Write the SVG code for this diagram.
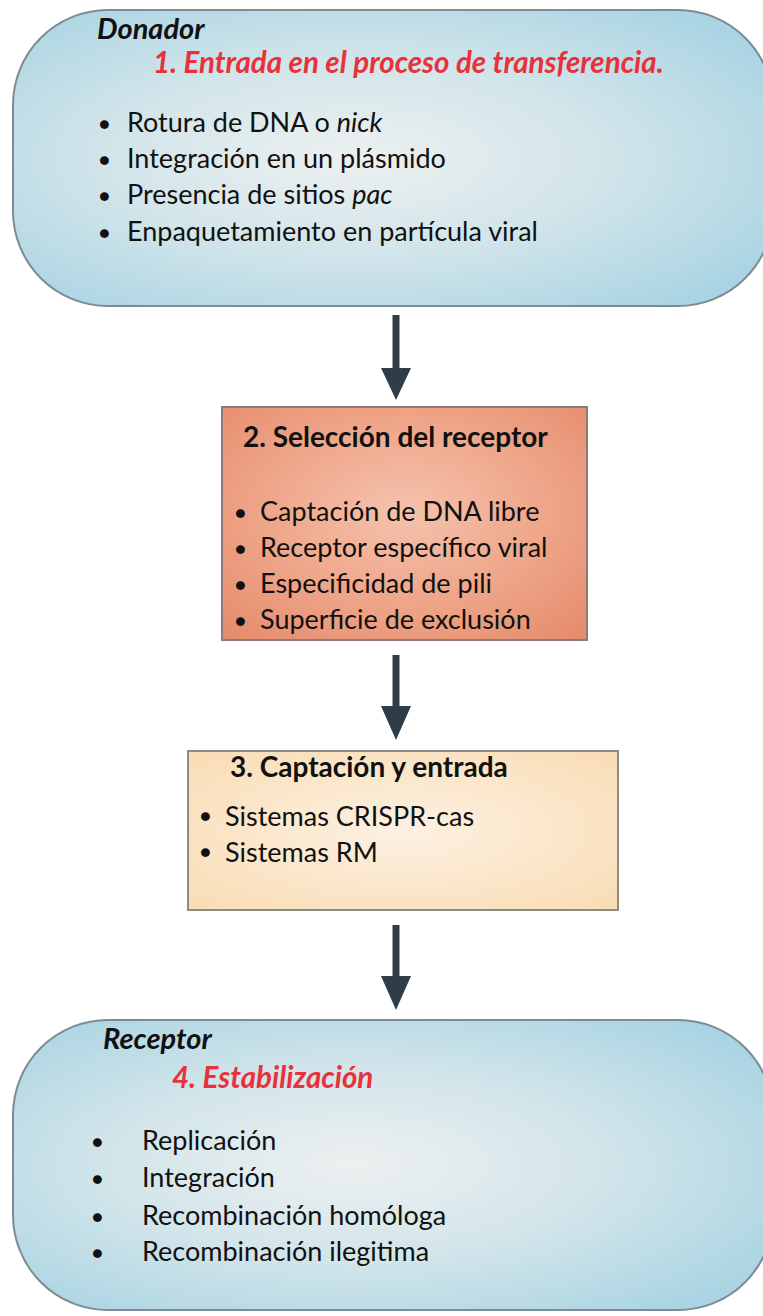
<svg xmlns="http://www.w3.org/2000/svg" width="763" height="1316" viewBox="0 0 763 1316">
<style>
.t{font-family:Lato,"Open Sans","Liberation Sans",sans-serif;font-size:27px;fill:#111}
.d{font-family:Lato,"Open Sans","Liberation Sans",sans-serif;font-size:18px;fill:#111}
.h{font-family:Lato,"Open Sans","Liberation Sans",sans-serif;font-size:29px;font-weight:bold;font-style:italic;fill:#111}
.r{font-family:Lato,"Open Sans","Liberation Sans",sans-serif;font-size:29.5px;font-weight:bold;font-style:italic;fill:#e8313a}
.b{font-family:Lato,"Open Sans","Liberation Sans",sans-serif;font-size:28px;font-weight:bold;fill:#111}
.blue{fill:url(#gBlue);stroke:#7d8c93;stroke-width:2}
.arr{stroke:#2e3d48;stroke-width:7;fill:none}
.head{fill:#2e3d48}
</style>
<defs>
<radialGradient id="gBlue" cx="0.45" cy="0.5" r="0.65">
<stop offset="0" stop-color="#edf0f0"/>
<stop offset="0.5" stop-color="#d2e5ea"/>
<stop offset="1" stop-color="#aad4e3"/>
</radialGradient>
<radialGradient id="gSalmon" cx="0.5" cy="0.45" r="0.7">
<stop offset="0" stop-color="#f5c2ad"/>
<stop offset="0.6" stop-color="#eea386"/>
<stop offset="1" stop-color="#e68d6f"/>
</radialGradient>
<radialGradient id="gPeach" cx="0.5" cy="0.5" r="0.7">
<stop offset="0" stop-color="#fdf1e2"/>
<stop offset="1" stop-color="#f9dcb4"/>
</radialGradient>
</defs>

<g id="connectors">
<line class="arr" x1="396" y1="315" x2="396" y2="375"/>
<polygon class="head" points="381,368 411,368 396,400"/>
<line class="arr" x1="396" y1="655" x2="396" y2="712"/>
<polygon class="head" points="381,706 411,706 396,740"/>
<line class="arr" x1="396" y1="925" x2="396" y2="982"/>
<polygon class="head" points="381,976 411,976 396,1010"/>
</g>

<g id="donador">
<rect class="blue" x="13" y="10" width="760" height="296" rx="95" ry="95"/>
<text class="h" x="97" y="39">Donador</text>
<text class="r" x="153" y="73">1. Entrada en el proceso de transferencia.</text>
<g class="d">
<text x="99" y="130">●</text>
<text x="99" y="166">●</text>
<text x="99" y="202">●</text>
<text x="99" y="239">●</text>
</g>
<g class="t">
<text x="127" y="132">Rotura de DNA o <tspan font-style="italic">nick</tspan></text>
<text x="127" y="168">Integración en un plásmido</text>
<text x="127" y="204">Presencia de sitios <tspan font-style="italic">pac</tspan></text>
<text x="127" y="241">Enpaquetamiento en partícula viral</text>
</g>
</g>

<g id="seleccion">
<rect x="222" y="407" width="365" height="233" fill="url(#gSalmon)" stroke="#8d7b74" stroke-width="2"/>
<text class="b" x="243" y="447">2. Selección del receptor</text>
<g class="d">
<text x="235" y="519">●</text>
<text x="235" y="555">●</text>
<text x="235" y="591">●</text>
<text x="235" y="627">●</text>
</g>
<g class="t">
<text x="260" y="521">Captación de DNA libre</text>
<text x="260" y="557">Receptor específico viral</text>
<text x="260" y="593">Especificidad de pili</text>
<text x="260" y="629">Superficie de exclusión</text>
</g>
</g>

<g id="captacion">
<rect x="188" y="751" width="430" height="159" fill="url(#gPeach)" stroke="#8f8a84" stroke-width="2"/>
<text class="b" x="230" y="777">3. Captación y entrada</text>
<g class="d">
<text x="200" y="822">●</text>
<text x="200" y="858">●</text>
</g>
<g class="t">
<text x="225" y="826">Sistemas CRISPR-cas</text>
<text x="225" y="862">Sistemas RM</text>
</g>
</g>

<g id="receptor">
<rect class="blue" x="13" y="1020" width="760" height="290" rx="95" ry="95"/>
<text class="h" x="103" y="1049">Receptor</text>
<text class="r" x="172" y="1088">4. Estabilización</text>
<g class="d">
<text x="92" y="1148">●</text>
<text x="92" y="1185">●</text>
<text x="92" y="1223">●</text>
<text x="92" y="1259">●</text>
</g>
<g class="t">
<text x="142" y="1150">Replicación</text>
<text x="142" y="1187">Integración</text>
<text x="142" y="1225">Recombinación homóloga</text>
<text x="142" y="1261">Recombinación ilegitima</text>
</g>
</g>
</svg>
